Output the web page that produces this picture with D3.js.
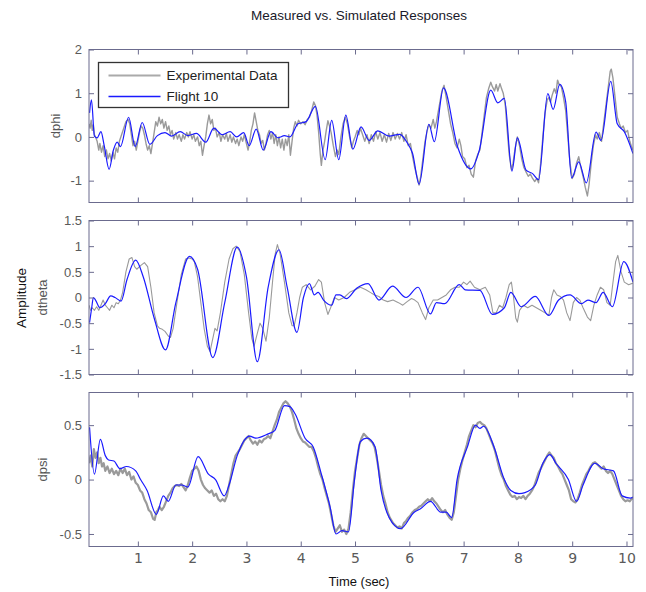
<!DOCTYPE html>
<html>
<head>
<meta charset="utf-8">
<script src="https://cdn.jsdelivr.net/npm/d3@7"></script>
<style>
  body { margin: 0; background: #fff; }
  text { font-family: "Liberation Sans", Arial, sans-serif; }
</style>
</head>
<body>
<div id="chart"></div>
<script>
// time ticks shared by all three panels
var timeTicks = [1, 2, 3, 4, 5, 6, 7, 8, 9, 10];
var seriesNames = ['Experimental Data', 'Flight 10'];

// ---- dphi ----
var dphiSim = [[0.11,0.55],[0.145,0.85],[0.2,0.02],[0.25,-0.02],[0.32,0.12],[0.38,-0.2],[0.47,-0.74],[0.55,-0.3],[0.62,-0.12],[0.68,-0.22],[0.83,0.45],[0.95,-0.22],[1.08,0.33],[1.22,-0.17],[1.36,0.03],[1.5,0.1],[1.62,0.02],[1.78,0.12],[1.92,0.03],[2.08,0.08],[2.25,-0.12],[2.4,0.2],[2.55,0.05],[2.7,0.12],[2.82,0.0],[2.95,0.1],[3.05,-0.2],[3.18,0.18],[3.31,-0.3],[3.45,0.12],[3.58,-0.02],[3.7,0.03],[3.8,0.0],[3.95,0.3],[4.1,0.35],[4.27,0.7],[4.45,-0.52],[4.57,0.38],[4.7,-0.52],[4.83,0.5],[4.96,-0.28],[5.11,0.23],[5.26,-0.08],[5.42,0.14],[5.63,0.02],[5.82,0.06],[5.97,-0.15],[6.06,-0.38],[6.18,-1.08],[6.36,0.29],[6.46,-0.11],[6.63,1.12],[6.89,-0.23],[7.13,-0.73],[7.29,-0.3],[7.5,1.07],[7.63,0.78],[7.75,0.88],[7.89,-0.78],[7.99,-0.02],[8.15,-0.76],[8.27,-0.84],[8.38,-0.98],[8.55,0.99],[8.65,0.63],[8.77,1.2],[8.88,0.8],[8.99,-0.94],[9.12,-0.57],[9.26,-1.05],[9.44,0.11],[9.53,-0.08],[9.71,1.27],[9.83,0.3],[9.96,0.12],[10.12,-0.38]];
var dphiMeas = [[0.1,0.3],[0.12,0.2],[0.14,0.38],[0.16,0.15],[0.18,0.28],[0.2,0.05],[0.22,0.0],[0.25,-0.1],[0.28,-0.3],[0.3,-0.15],[0.33,-0.35],[0.36,-0.2],[0.39,-0.45],[0.42,-0.3],[0.45,-0.5],[0.48,-0.38],[0.51,-0.55],[0.54,-0.35],[0.57,-0.5],[0.6,-0.25],[0.63,-0.35],[0.66,-0.1],[0.7,0.05],[0.74,0.2],[0.78,0.35],[0.82,0.4],[0.85,0.3],[0.88,0.05],[0.91,-0.2],[0.94,-0.1],[0.97,-0.3],[1.0,-0.1],[1.03,0.1],[1.06,0.25],[1.09,0.2],[1.12,0.05],[1.15,-0.15],[1.18,-0.3],[1.21,-0.2],[1.24,-0.38],[1.27,-0.15],[1.3,0.1],[1.33,0.35],[1.36,0.25],[1.39,0.45],[1.42,0.3],[1.45,0.4],[1.48,0.2],[1.51,0.35],[1.54,0.15],[1.57,0.25],[1.6,0.05],[1.63,0.15],[1.66,-0.05],[1.7,0.1],[1.73,-0.05],[1.76,0.05],[1.8,-0.1],[1.83,0.05],[1.86,-0.05],[1.9,0.1],[1.93,0.0],[1.96,0.12],[2.0,-0.05],[2.03,0.05],[2.06,-0.1],[2.1,0.0],[2.13,-0.2],[2.16,-0.1],[2.19,-0.42],[2.22,-0.2],[2.25,0.0],[2.28,0.3],[2.31,0.5],[2.34,0.3],[2.37,0.4],[2.4,0.15],[2.43,0.2],[2.46,0.0],[2.5,0.1],[2.53,-0.1],[2.56,0.05],[2.6,-0.05],[2.63,0.08],[2.66,-0.1],[2.7,0.05],[2.73,-0.12],[2.76,0.0],[2.8,-0.15],[2.83,-0.05],[2.86,-0.2],[2.9,0.0],[2.93,-0.1],[2.96,0.05],[3.0,-0.15],[3.03,-0.3],[3.06,-0.1],[3.09,0.15],[3.12,0.3],[3.15,0.55],[3.18,0.35],[3.21,0.15],[3.24,0.05],[3.27,-0.15],[3.3,-0.08],[3.33,-0.3],[3.36,-0.15],[3.39,0.05],[3.42,0.15],[3.45,-0.05],[3.48,0.1],[3.51,-0.15],[3.54,0.05],[3.57,-0.2],[3.6,0.0],[3.63,-0.25],[3.66,-0.05],[3.69,-0.3],[3.72,-0.05],[3.75,-0.2],[3.78,0.05],[3.81,-0.42],[3.84,-0.1],[3.87,0.2],[3.9,0.35],[3.93,0.25],[3.96,0.38],[4.0,0.3],[4.04,0.35],[4.08,0.28],[4.12,0.4],[4.16,0.45],[4.2,0.6],[4.24,0.8],[4.27,0.72],[4.3,0.5],[4.33,0.1],[4.36,-0.4],[4.38,-0.65],[4.41,-0.3],[4.44,-0.1],[4.47,0.15],[4.5,0.37],[4.53,0.25],[4.56,0.1],[4.6,-0.2],[4.64,-0.45],[4.67,-0.3],[4.7,-0.4],[4.74,0.0],[4.78,0.3],[4.82,0.45],[4.86,0.3],[4.9,0.0],[4.94,-0.25],[4.97,-0.1],[5.0,0.0],[5.04,0.15],[5.07,0.05],[5.1,0.2],[5.14,0.05],[5.18,-0.1],[5.22,0.05],[5.26,-0.15],[5.3,0.05],[5.34,-0.1],[5.38,0.12],[5.42,-0.05],[5.46,0.1],[5.5,-0.1],[5.54,0.05],[5.58,-0.12],[5.62,0.08],[5.66,-0.08],[5.7,0.1],[5.74,-0.05],[5.78,0.08],[5.82,-0.05],[5.86,0.1],[5.9,-0.1],[5.94,0.05],[5.98,-0.2],[6.02,-0.15],[6.06,-0.45],[6.1,-0.7],[6.14,-0.9],[6.18,-1.1],[6.21,-0.9],[6.25,-0.5],[6.29,-0.1],[6.33,0.15],[6.36,0.28],[6.4,0.2],[6.44,0.4],[6.47,0.2],[6.5,0.35],[6.55,0.7],[6.6,1.05],[6.64,1.18],[6.68,0.9],[6.72,0.6],[6.76,0.3],[6.8,0.1],[6.84,-0.15],[6.88,-0.25],[6.92,-0.05],[6.95,-0.2],[6.98,-0.45],[7.02,-0.5],[7.06,-0.7],[7.1,-0.65],[7.14,-0.85],[7.18,-0.92],[7.22,-0.55],[7.26,-0.4],[7.3,-0.3],[7.34,0.1],[7.38,0.5],[7.42,0.9],[7.46,1.1],[7.5,1.25],[7.53,1.15],[7.57,1.05],[7.6,1.2],[7.63,1.05],[7.67,1.22],[7.7,1.1],[7.73,1.0],[7.77,0.7],[7.8,0.2],[7.84,-0.4],[7.88,-0.75],[7.91,-0.6],[7.95,-0.25],[7.99,0.0],[8.03,-0.2],[8.07,-0.5],[8.11,-0.7],[8.15,-0.8],[8.19,-0.9],[8.23,-0.85],[8.27,-0.95],[8.31,-1.02],[8.35,-0.95],[8.38,-1.05],[8.42,-0.6],[8.46,0.0],[8.5,0.55],[8.54,0.85],[8.57,0.9],[8.6,0.8],[8.63,0.95],[8.67,1.1],[8.7,1.0],[8.73,1.3],[8.76,1.2],[8.8,1.15],[8.84,0.9],[8.88,0.6],[8.92,0.0],[8.96,-0.6],[9.0,-0.95],[9.04,-0.85],[9.08,-0.6],[9.12,-0.45],[9.16,-0.7],[9.2,-0.9],[9.24,-1.15],[9.28,-1.35],[9.31,-1.1],[9.35,-0.6],[9.39,-0.2],[9.43,0.05],[9.46,-0.05],[9.5,0.1],[9.54,-0.1],[9.58,0.3],[9.62,0.7],[9.66,1.1],[9.7,1.5],[9.72,1.55],[9.75,1.35],[9.79,0.9],[9.83,0.45],[9.87,0.3],[9.9,0.2],[9.94,0.25],[9.98,0.1],[10.02,0.15],[10.06,-0.1],[10.1,-0.25],[10.12,-0.3]];

// ---- dtheta ----
var dthetaSim = [[0.11,-0.49],[0.15,-0.2],[0.18,0.0],[0.22,-0.05],[0.3,-0.2],[0.4,-0.12],[0.5,0.03],[0.58,0.0],[0.69,-0.07],[0.8,0.35],[0.96,0.73],[1.1,0.4],[1.3,-0.4],[1.51,-1.02],[1.7,-0.1],[1.95,0.8],[2.1,0.55],[2.38,-1.17],[2.6,-0.1],[2.83,0.98],[3.0,0.4],[3.2,-1.25],[3.4,0.2],[3.6,0.93],[3.75,0.2],[3.93,-0.68],[4.05,0.0],[4.16,0.27],[4.25,0.05],[4.32,0.1],[4.42,-0.05],[4.57,-0.15],[4.65,0.05],[4.72,0.05],[4.84,-0.02],[5.03,0.18],[5.24,0.27],[5.44,-0.05],[5.69,0.22],[5.94,0.0],[6.16,0.2],[6.39,-0.32],[6.5,-0.1],[6.65,-0.12],[6.92,0.25],[7.03,0.15],[7.3,0.14],[7.53,-0.33],[7.75,-0.2],[7.87,0.1],[8.06,-0.18],[8.32,0.02],[8.57,-0.35],[8.75,-0.05],[8.96,0.05],[9.17,-0.12],[9.29,-0.05],[9.44,-0.1],[9.57,0.1],[9.74,-0.18],[9.95,0.7],[10.12,0.3]];
var dthetaMeas = [[0.1,-0.15],[0.13,-0.25],[0.16,-0.2],[0.2,-0.25],[0.24,-0.18],[0.28,-0.25],[0.32,-0.15],[0.36,-0.05],[0.4,-0.15],[0.44,-0.2],[0.48,-0.25],[0.52,-0.15],[0.56,-0.2],[0.6,-0.1],[0.64,-0.12],[0.68,-0.05],[0.72,0.1],[0.78,0.5],[0.84,0.75],[0.89,0.78],[0.94,0.6],[0.98,0.55],[1.05,0.62],[1.12,0.68],[1.18,0.6],[1.24,0.2],[1.3,-0.3],[1.36,-0.55],[1.4,-0.6],[1.45,-0.62],[1.5,-0.66],[1.56,-0.75],[1.6,-0.78],[1.65,-0.6],[1.72,-0.1],[1.8,0.45],[1.88,0.75],[1.94,0.77],[2.0,0.75],[2.04,0.7],[2.1,0.4],[2.16,-0.1],[2.22,-0.6],[2.28,-0.95],[2.33,-1.05],[2.38,-0.8],[2.42,-0.6],[2.46,-0.65],[2.52,-0.3],[2.6,0.3],[2.68,0.75],[2.75,0.95],[2.81,1.0],[2.88,0.9],[2.96,0.45],[3.04,-0.3],[3.1,-0.8],[3.14,-0.95],[3.2,-0.7],[3.25,-0.5],[3.3,-0.6],[3.36,-0.85],[3.42,-0.4],[3.48,0.3],[3.53,0.85],[3.57,1.03],[3.62,0.85],[3.7,0.3],[3.78,-0.3],[3.84,-0.55],[3.88,-0.55],[3.93,-0.3],[3.98,0.0],[4.03,0.2],[4.1,0.25],[4.18,0.15],[4.26,0.22],[4.33,0.35],[4.38,0.3],[4.44,-0.1],[4.5,-0.33],[4.55,-0.2],[4.62,0.0],[4.7,-0.05],[4.8,0.0],[4.9,0.1],[5.0,0.15],[5.1,0.2],[5.2,0.15],[5.28,0.1],[5.36,0.05],[5.44,0.02],[5.52,-0.05],[5.6,-0.08],[5.7,-0.05],[5.8,-0.1],[5.88,-0.15],[5.96,-0.08],[6.04,-0.02],[6.1,-0.05],[6.16,-0.1],[6.24,-0.3],[6.3,-0.43],[6.36,-0.2],[6.44,-0.05],[6.52,-0.05],[6.6,0.0],[6.68,0.05],[6.76,0.15],[6.84,0.2],[6.92,0.2],[7.0,0.3],[7.06,0.25],[7.12,0.32],[7.2,0.2],[7.3,0.15],[7.4,0.2],[7.48,0.05],[7.54,-0.3],[7.6,-0.3],[7.66,-0.15],[7.72,-0.2],[7.78,0.0],[7.84,0.25],[7.88,0.3],[7.92,0.0],[7.96,-0.4],[7.99,-0.48],[8.03,-0.25],[8.1,-0.15],[8.18,-0.2],[8.26,-0.15],[8.34,-0.2],[8.42,-0.25],[8.5,-0.3],[8.57,-0.35],[8.62,0.0],[8.66,0.15],[8.72,0.05],[8.78,0.02],[8.84,-0.05],[8.9,-0.3],[8.96,-0.45],[9.02,-0.1],[9.08,0.0],[9.14,-0.05],[9.2,-0.2],[9.28,-0.38],[9.34,-0.45],[9.4,-0.15],[9.46,0.05],[9.52,0.2],[9.58,0.15],[9.64,-0.1],[9.7,-0.15],[9.74,0.2],[9.8,0.7],[9.84,0.82],[9.9,0.5],[9.96,0.3],[10.04,0.25],[10.12,0.28]];

// ---- dpsi ----
var dpsiSim = [[0.11,0.48],[0.2,0.05],[0.31,0.37],[0.4,0.22],[0.46,0.18],[0.56,0.17],[0.67,0.1],[0.79,0.12],[0.96,0.08],[1.05,0.0],[1.17,-0.1],[1.34,-0.32],[1.47,-0.15],[1.56,-0.2],[1.7,-0.05],[1.81,-0.05],[1.92,-0.07],[2.11,0.21],[2.3,0.05],[2.43,0.0],[2.59,-0.15],[2.68,-0.05],[2.83,0.22],[3.06,0.4],[3.17,0.38],[3.4,0.42],[3.52,0.45],[3.7,0.68],[3.8,0.67],[3.9,0.6],[4.08,0.38],[4.23,0.3],[4.38,0.05],[4.54,-0.25],[4.65,-0.5],[4.76,-0.47],[4.88,-0.48],[4.99,0.0],[5.1,0.35],[5.22,0.38],[5.37,0.3],[5.48,-0.1],[5.63,-0.35],[5.84,-0.45],[6.09,-0.3],[6.2,-0.27],[6.39,-0.2],[6.58,-0.3],[6.68,-0.3],[6.78,-0.35],[6.88,0.0],[7.07,0.3],[7.22,0.5],[7.3,0.47],[7.37,0.49],[7.56,0.3],[7.75,0.0],[7.87,-0.1],[8.02,-0.13],[8.13,-0.12],[8.32,-0.05],[8.46,0.15],[8.59,0.23],[8.7,0.15],[8.93,0.0],[9.08,-0.2],[9.2,-0.05],[9.42,0.15],[9.57,0.1],[9.76,0.08],[9.92,-0.15],[10.07,-0.17],[10.12,-0.16]];
var dpsiMeas = [[0.1,0.15],[0.13,0.22],[0.16,0.12],[0.19,0.28],[0.22,0.2],[0.25,0.25],[0.28,0.15],[0.31,0.2],[0.34,0.12],[0.37,0.15],[0.4,0.08],[0.44,0.12],[0.48,0.06],[0.52,0.1],[0.56,0.05],[0.6,0.08],[0.64,0.04],[0.68,0.1],[0.72,0.06],[0.76,0.1],[0.8,0.04],[0.84,0.07],[0.88,0.0],[0.92,0.03],[0.96,-0.03],[1.0,-0.05],[1.04,-0.1],[1.08,-0.12],[1.12,-0.18],[1.16,-0.22],[1.2,-0.28],[1.24,-0.3],[1.28,-0.36],[1.31,-0.37],[1.34,-0.3],[1.37,-0.28],[1.4,-0.25],[1.44,-0.28],[1.48,-0.25],[1.52,-0.2],[1.56,-0.15],[1.6,-0.12],[1.64,-0.08],[1.68,-0.06],[1.72,-0.05],[1.76,-0.06],[1.8,-0.04],[1.84,-0.07],[1.88,-0.1],[1.92,-0.05],[1.96,0.02],[2.0,0.08],[2.04,0.1],[2.08,0.12],[2.12,0.08],[2.16,0.0],[2.2,-0.05],[2.24,-0.08],[2.28,-0.1],[2.32,-0.12],[2.36,-0.1],[2.4,-0.15],[2.44,-0.13],[2.48,-0.18],[2.52,-0.2],[2.56,-0.18],[2.6,-0.2],[2.64,-0.15],[2.68,-0.05],[2.72,0.05],[2.76,0.15],[2.8,0.22],[2.84,0.25],[2.88,0.28],[2.92,0.32],[2.96,0.36],[3.0,0.38],[3.04,0.4],[3.08,0.36],[3.12,0.33],[3.16,0.35],[3.2,0.32],[3.24,0.36],[3.28,0.34],[3.32,0.37],[3.36,0.38],[3.4,0.4],[3.44,0.38],[3.48,0.44],[3.52,0.5],[3.56,0.55],[3.6,0.62],[3.64,0.66],[3.68,0.7],[3.72,0.72],[3.76,0.7],[3.8,0.67],[3.84,0.62],[3.88,0.55],[3.92,0.47],[3.96,0.42],[4.0,0.38],[4.04,0.35],[4.08,0.34],[4.12,0.32],[4.16,0.3],[4.2,0.3],[4.24,0.26],[4.28,0.2],[4.32,0.12],[4.36,0.05],[4.4,0.0],[4.44,-0.08],[4.48,-0.15],[4.52,-0.22],[4.56,-0.32],[4.6,-0.42],[4.64,-0.48],[4.68,-0.45],[4.72,-0.42],[4.76,-0.48],[4.8,-0.46],[4.84,-0.5],[4.88,-0.45],[4.92,-0.3],[4.96,-0.1],[5.0,0.08],[5.04,0.2],[5.08,0.32],[5.12,0.38],[5.16,0.42],[5.2,0.4],[5.24,0.38],[5.28,0.36],[5.32,0.34],[5.36,0.3],[5.4,0.2],[5.44,0.08],[5.48,-0.05],[5.52,-0.15],[5.56,-0.22],[5.6,-0.3],[5.64,-0.35],[5.7,-0.4],[5.74,-0.42],[5.78,-0.44],[5.82,-0.43],[5.86,-0.45],[5.9,-0.4],[5.94,-0.38],[5.98,-0.35],[6.02,-0.33],[6.06,-0.3],[6.1,-0.28],[6.14,-0.27],[6.18,-0.25],[6.22,-0.24],[6.26,-0.22],[6.3,-0.2],[6.34,-0.18],[6.38,-0.2],[6.42,-0.17],[6.46,-0.2],[6.5,-0.22],[6.54,-0.25],[6.58,-0.28],[6.62,-0.3],[6.66,-0.28],[6.7,-0.32],[6.74,-0.35],[6.78,-0.37],[6.82,-0.3],[6.86,-0.15],[6.9,0.0],[6.94,0.1],[6.98,0.18],[7.02,0.25],[7.06,0.32],[7.1,0.4],[7.14,0.45],[7.18,0.5],[7.22,0.48],[7.26,0.52],[7.3,0.53],[7.34,0.51],[7.38,0.5],[7.42,0.47],[7.46,0.42],[7.5,0.37],[7.54,0.32],[7.58,0.26],[7.62,0.18],[7.66,0.1],[7.7,0.04],[7.74,0.0],[7.78,-0.06],[7.82,-0.1],[7.86,-0.14],[7.9,-0.16],[7.94,-0.15],[7.98,-0.18],[8.02,-0.16],[8.06,-0.17],[8.1,-0.15],[8.14,-0.18],[8.18,-0.15],[8.22,-0.13],[8.26,-0.1],[8.3,-0.06],[8.34,0.0],[8.38,0.06],[8.42,0.1],[8.46,0.14],[8.5,0.18],[8.54,0.22],[8.58,0.25],[8.62,0.22],[8.66,0.2],[8.7,0.15],[8.74,0.12],[8.78,0.08],[8.82,0.05],[8.86,0.0],[8.9,-0.05],[8.94,-0.1],[8.98,-0.18],[9.02,-0.2],[9.06,-0.21],[9.1,-0.18],[9.14,-0.12],[9.18,-0.05],[9.22,0.0],[9.26,0.05],[9.3,0.08],[9.34,0.12],[9.38,0.15],[9.42,0.16],[9.46,0.14],[9.5,0.12],[9.54,0.1],[9.58,0.12],[9.62,0.08],[9.66,0.06],[9.7,0.08],[9.74,0.05],[9.78,0.0],[9.82,-0.05],[9.86,-0.1],[9.9,-0.15],[9.94,-0.18],[9.98,-0.2],[10.02,-0.19],[10.06,-0.2],[10.09,-0.18],[10.12,-0.17]];

var svgWidth = 646;
var svgHeight = 592;
var frameColor = '#6b6b8e';
var tickColor = '#5a5a5a';

var svg = d3.select('#chart')
    .append('svg')
    .attr('width', svgWidth)
    .attr('height', svgHeight);

var xScale = d3.scaleLinear()
    .domain([0.1, 10.12])
    .range([89, 633]);

var panels = [
    { name: 'dphi', top: 49.5, bottom: 202.5, domain: [-1.5, 2], ticks: [-1, 0, 1, 2], meas: dphiMeas, sim: dphiSim, measWidth: 1.4, labelX: 55 },
    { name: 'dtheta', top: 220.5, bottom: 374.5, domain: [-1.5, 1.5], ticks: [-1.5, -1, -0.5, 0, 0.5, 1, 1.5], meas: dthetaMeas, sim: dthetaSim, measWidth: 1.1, labelX: 42 },
    { name: 'dpsi', top: 392.5, bottom: 546.5, domain: [-0.615, 0.8], ticks: [-0.5, 0, 0.5], meas: dpsiMeas, sim: dpsiSim, measWidth: 2.2, labelX: 42 }
];

panels.forEach(function (p, i) {
    var yScale = d3.scaleLinear().domain(p.domain).range([p.bottom, p.top]);
    var g = svg.append('g');

    // clip lines to the axes box
    svg.append('clipPath').attr('id', 'clip' + i)
        .append('rect')
        .attr('x', 89).attr('y', p.top)
        .attr('width', 544).attr('height', p.bottom - p.top);

    var line = d3.line()
        .x(d => xScale(d[0]))
        .y(d => yScale(d[1]));

    g.append('path')
        .datum(p.meas)
        .attr('clip-path', 'url(#clip' + i + ')')
        .attr('fill', 'none')
        .attr('stroke', '#9a9a9a')
        .attr('stroke-width', p.measWidth)
        .attr('stroke-linejoin', 'round')
        .attr('d', line);

    g.append('path')
        .datum(p.sim)
        .attr('clip-path', 'url(#clip' + i + ')')
        .attr('fill', 'none')
        .attr('stroke', '#1a1aff')
        .attr('stroke-width', 1.2)
        .attr('d', line.curve(d3.curveMonotoneX));

    // axes with inward ticks on all four sides
    var bottomAxis = d3.axisBottom(xScale).tickValues(timeTicks).tickSize(-5).tickSizeOuter(0).tickPadding(7);
    if (i < 2) bottomAxis.tickFormat('');
    var leftAxis = d3.axisLeft(yScale).tickValues(p.ticks).tickSize(-5).tickSizeOuter(0).tickPadding(7)
        .tickFormat(d => String(d));

    var xb = g.append('g').attr('transform', `translate(0,${p.bottom})`).call(bottomAxis);
    g.append('g').attr('transform', `translate(0,${p.top})`)
        .call(d3.axisTop(xScale).tickValues(timeTicks).tickSize(-5).tickSizeOuter(0).tickFormat(''));
    var yl = g.append('g').attr('transform', 'translate(89,0)').call(leftAxis);
    g.append('g').attr('transform', 'translate(633,0)')
        .call(d3.axisRight(yScale).tickValues(p.ticks).tickSize(-5).tickSizeOuter(0).tickFormat(''));

    g.selectAll('.domain').remove();
    g.selectAll('.tick line').attr('stroke', frameColor);
    yl.selectAll('text').attr('fill', tickColor).style('font-size', '13px');
    xb.selectAll('text').attr('fill', tickColor).style('font-size', '14px')
        .style('font-family', '"DejaVu Sans", sans-serif').attr('font-weight', 'normal');

    g.append('rect')
        .attr('x', 89).attr('y', p.top)
        .attr('width', 544).attr('height', p.bottom - p.top)
        .attr('fill', 'none')
        .attr('stroke', frameColor)
        .attr('stroke-width', 1);

    // panel label
    svg.append('text')
        .attr('transform', `translate(${p.labelX},${(p.top + p.bottom) / 2}) rotate(-90)`)
        .attr('text-anchor', 'middle')
        .attr('dy', '0.35em')
        .attr('fill', '#555')
        .style('font-size', '13px')
        .text(p.name);
});

// title and shared labels
svg.append('text')
    .attr('x', 359).attr('y', 20)
    .attr('text-anchor', 'middle')
    .attr('fill', '#1a1a2a')
    .style('font-size', '13.5px')
    .text('Measured vs. Simulated Responses');

svg.append('text')
    .attr('x', 359).attr('y', 586)
    .attr('text-anchor', 'middle')
    .attr('fill', '#111')
    .style('font-size', '13px')
    .text('Time (sec)');

svg.append('text')
    .attr('transform', 'translate(21,298) rotate(-90)')
    .attr('text-anchor', 'middle')
    .attr('dy', '0.35em')
    .attr('fill', '#111')
    .style('font-size', '13.5px')
    .text('Amplitude');

// legend
var legend = svg.append('g').attr('transform', 'translate(98.5,62.5)');
legend.append('rect')
    .attr('width', 190).attr('height', 45)
    .attr('fill', '#fff')
    .attr('stroke', '#333')
    .attr('stroke-width', 1.3);

var legendColors = ['#aaaaaa', '#1a1aff'];
var legendWidths = [2, 1.3];
seriesNames.forEach(function (name, k) {
    var yy = 13 + k * 21;
    legend.append('line')
        .attr('x1', 10).attr('x2', 62)
        .attr('y1', yy).attr('y2', yy)
        .attr('stroke', legendColors[k])
        .attr('stroke-width', legendWidths[k]);
    legend.append('text')
        .attr('x', 68).attr('y', yy)
        .attr('dy', '0.35em')
        .attr('fill', '#222')
        .style('font-size', '13.5px')
        .text(name);
});
</script>
</body>
</html>
